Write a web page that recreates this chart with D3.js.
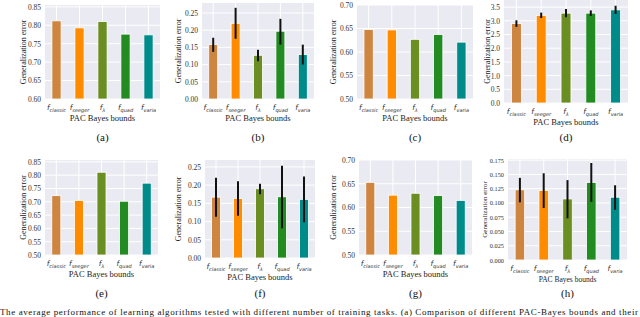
<!DOCTYPE html>
<html>
<head>
<meta charset="utf-8">
<script src="https://cdn.jsdelivr.net/npm/d3@7"></script>
<style>
  body { margin: 0; background: #fff; }
  svg { display: block; }
</style>
</head>
<body>
<div id="chart"></div>
<script>
const width = 640, height = 317;

// categories and colours
const bounds = ["classic", "seeger", "λ", "quad", "varia"];
const colors = ["#CD853F", "#FF8C00", "#6B8E23", "#228B22", "#008B8B"];
const panelNames = ["(a)", "(b)", "(c)", "(d)", "(e)", "(f)", "(g)", "(h)"];

// bar heights per panel
const valsA = [0.812, 0.793, 0.810, 0.776, 0.774];
const valsB = [0.158, 0.220, 0.127, 0.197, 0.129];
const valsC = [0.648, 0.647, 0.627, 0.637, 0.621];
const valsD = [2.90, 3.20, 3.28, 3.28, 3.40];
const valsE = [0.723, 0.705, 0.811, 0.702, 0.770];
const valsF = [0.167, 0.163, 0.190, 0.168, 0.161];
const valsG = [0.653, 0.626, 0.630, 0.625, 0.615];
const valsH = [0.123, 0.122, 0.107, 0.136, 0.110];

// error bars [low, high], null = none
const errB = [[0.137, 0.178], [0.175, 0.265], [0.110, 0.143], [0.158, 0.233], [0.100, 0.158]];
const errD = [[2.78, 3.02], [3.10, 3.30], [3.13, 3.43], [3.18, 3.38], [3.25, 3.55]];
const errF = [[0.113, 0.220], [0.116, 0.211], [0.175, 0.204], [0.082, 0.253], [0.098, 0.224]];
const errH = [[0.101, 0.144], [0.091, 0.152], [0.073, 0.140], [0.102, 0.170], [0.088, 0.131]];

// y ticks per panel
const ticksA = [0.60, 0.65, 0.70, 0.75, 0.80, 0.85];
const ticksB = [0.00, 0.05, 0.10, 0.15, 0.20, 0.25];
const ticksC = [0.50, 0.55, 0.60, 0.65, 0.70];
const ticksD = [0.0, 0.5, 1.0, 1.5, 2.0, 2.5, 3.0, 3.5];
const ticksE = [0.50, 0.55, 0.60, 0.65, 0.70, 0.75, 0.80, 0.85];
const ticksF = [0.00, 0.05, 0.10, 0.15, 0.20, 0.25];
const ticksG = [0.50, 0.55, 0.60, 0.65, 0.70];
const ticksH = [0.000, 0.025, 0.050, 0.075, 0.100, 0.125, 0.150, 0.175];

// layout: plot box + y domain + tick format
const panels = [
  {vals: valsA, err: null, ticks: ticksA, fmt: ".2f", x0: 45,  x1: 160, top: 5,   bot: 99,  lo: 0.60, hi: 0.855, ylx: 23,  fs: 7.5, lfs: 8},
  {vals: valsB, err: errB, ticks: ticksB, fmt: ".2f", x0: 202, x1: 314, top: 3,   bot: 99,  lo: 0,    hi: 0.279, ylx: 178, fs: 7.5, lfs: 8},
  {vals: valsC, err: null, ticks: ticksC, fmt: ".2f", x0: 357, x1: 473, top: 5,   bot: 99,  lo: 0.50, hi: 0.70,  ylx: 333, fs: 7.5, lfs: 8},
  {vals: valsD, err: errD, ticks: ticksD, fmt: ".1f", x0: 504, x1: 628, top: 0,   bot: 103, lo: 0,    hi: 3.76,  ylx: 487, fs: 7.5, lfs: 8},
  {vals: valsE, err: null, ticks: ticksE, fmt: ".2f", x0: 45,  x1: 158, top: 160, bot: 255, lo: 0.50, hi: 0.857, ylx: 23,  fs: 7.5, lfs: 8},
  {vals: valsF, err: errF, ticks: ticksF, fmt: ".2f", x0: 205, x1: 315, top: 160, bot: 258, lo: 0,    hi: 0.269, ylx: 178, fs: 7.5, lfs: 8},
  {vals: valsG, err: null, ticks: ticksG, fmt: ".2f", x0: 359, x1: 472, top: 160, bot: 255, lo: 0.50, hi: 0.70,  ylx: 333, fs: 7.5, lfs: 8},
  {vals: valsH, err: errH, ticks: ticksH, fmt: ".3f", x0: 508, x1: 627, top: 159, bot: 260, lo: 0,    hi: 0.177, ylx: 485, fs: 6.3, lfs: 7}
];

const svg = d3.select("#chart").append("svg")
    .attr("width", width)
    .attr("height", height);

const serif = "'Liberation Serif', 'DejaVu Serif', serif";

panels.forEach(function(p, i) {
  const g = svg.append("g");

  const x = d3.scaleBand()
      .domain(bounds)
      .range([p.x0, p.x1])
      .paddingInner(0.6)
      .paddingOuter(0.3);

  const y = d3.scaleLinear()
      .domain([p.lo, p.hi])
      .range([p.bot, p.top]);

  // background
  g.append("rect")
      .attr("x", p.x0).attr("y", p.top)
      .attr("width", p.x1 - p.x0).attr("height", p.bot - p.top)
      .attr("fill", "#EAEAF2");

  // grid lines
  g.selectAll(".hgrid").data(p.ticks).enter().append("line")
      .attr("x1", p.x0).attr("x2", p.x1)
      .attr("y1", d => y(d)).attr("y2", d => y(d))
      .attr("stroke", "#fff").attr("stroke-width", 1);

  g.selectAll(".vgrid").data(bounds).enter().append("line")
      .attr("x1", d => x(d) + x.bandwidth() / 2).attr("x2", d => x(d) + x.bandwidth() / 2)
      .attr("y1", p.top).attr("y2", p.bot)
      .attr("stroke", "#fff").attr("stroke-width", 1);

  // bars
  g.selectAll(".bar").data(p.vals).enter().append("rect")
      .attr("x", (d, j) => x(bounds[j]))
      .attr("y", d => y(d))
      .attr("width", x.bandwidth())
      .attr("height", d => y(p.lo) - y(d))
      .attr("fill", (d, j) => colors[j])
      .attr("stroke", "#fff")
      .attr("stroke-width", 0.8);

  // error bars
  if (p.err) {
    g.selectAll(".err").data(p.err).enter().append("line")
        .attr("x1", (d, j) => x(bounds[j]) + x.bandwidth() / 2)
        .attr("x2", (d, j) => x(bounds[j]) + x.bandwidth() / 2)
        .attr("y1", d => y(d[0]))
        .attr("y2", d => y(d[1]))
        .attr("stroke", "#111")
        .attr("stroke-width", 2);
  }

  // y tick labels
  const yAxis = d3.axisLeft(y).tickValues(p.ticks).tickFormat(d3.format(p.fmt)).tickSize(0).tickPadding(4);
  const ya = g.append("g").attr("transform", "translate(" + p.x0 + ",0)").call(yAxis);
  ya.select(".domain").remove();
  ya.selectAll("text").style("font-family", serif).style("font-size", p.fs + "px").attr("fill", "#333");

  // x tick labels: italic f with subscript
  const tl = g.selectAll(".xl").data(bounds).enter().append("text")
      .attr("x", d => x(d) + x.bandwidth() / 2)
      .attr("y", p.bot + 11)
      .attr("text-anchor", "middle")
      .style("font-family", "'DejaVu Sans', sans-serif")
      .style("font-style", "italic")
      .attr("fill", "#333");
  tl.append("tspan").style("font-size", "7.5px").text("f");
  tl.append("tspan").style("font-size", "5px").attr("dy", 2).text(d => d);

  // x label
  g.append("text")
      .attr("x", (p.x0 + p.x1) / 2)
      .attr("y", p.bot + 22)
      .attr("text-anchor", "middle")
      .style("font-family", serif)
      .style("font-size", (p.lfs + 0.5) + "px")
      .attr("fill", "#222")
      .text("PAC Bayes bounds");

  // y label
  g.append("text")
      .attr("transform", "translate(" + p.ylx + "," + (p.top + p.bot) / 2 + ") rotate(-90)")
      .attr("text-anchor", "middle")
      .attr("dy", "0.35em")
      .style("font-family", serif)
      .style("font-size", p.lfs + "px")
      .attr("fill", "#222")
      .text("Generalization error");

  // panel letter
  g.append("text")
      .attr("x", (p.x0 + p.x1) / 2)
      .attr("y", i < 4 ? 141 : 297)
      .attr("text-anchor", "middle")
      .style("font-family", serif)
      .style("font-size", "11px")
      .attr("fill", "#111")
      .text(panelNames[i]);
});

// caption along the bottom edge
svg.append("text")
    .attr("x", 0)
    .attr("y", 315)
    .attr("textLength", 638)
    .style("font-family", serif)
    .style("font-size", "9px")
    .attr("fill", "#111")
    .text("The average performance of learning algorithms tested with different number of training tasks. (a) Comparison of different PAC-Bayes bounds and their");
</script>
</body>
</html>
